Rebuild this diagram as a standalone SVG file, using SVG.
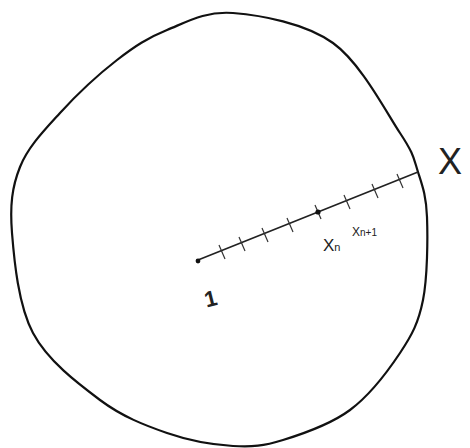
<svg xmlns="http://www.w3.org/2000/svg" width="470" height="448" viewBox="0 0 470 448">
<style>
.outline{fill:none;stroke:#111;stroke-width:2.2;stroke-linejoin:round}
.seg{fill:none;stroke:#222;stroke-width:1.6}
.tick{stroke:#333;stroke-width:1.2}
.lbl{font-family:"Liberation Sans",Arial,sans-serif;fill:#222}
</style>
<rect width="470" height="448" fill="#fff"/>
<g id="region">
<path class="outline" d="M233,13 C260.7,15.2 305.2,23 333,43 C360.8,63 385.8,111.5 400,133 C414.2,154.5 413.5,158 418,172 C422.5,186 426.2,195.7 427,217 C427.8,238.3 427.5,277.3 423,300 C418.5,322.7 412.2,334.7 400,353 C387.8,371.3 369.5,395.5 350,410 C330.5,424.5 302.5,434 283,440 C263.5,446 252.3,447.2 233,446 C213.7,444.8 189.2,440.7 167,433 C144.8,425.3 122.3,416.7 100,400 C77.7,383.3 47.7,360.8 33,333 C18.3,305.2 14.2,260.7 12,233 C9.8,205.3 12,187 20,167 C28,147 43.8,130.8 60,113 C76.2,95.2 99.2,73.8 117,60 C134.8,46.2 147.7,37.8 167,30 C186.3,22.2 205.3,10.8 233,13 Z"/>
</g>
<g id="connectors">
<line class="seg" x1="198" y1="260" x2="418" y2="172"/>
<g id="ticks">
<line class="tick" x1="219" y1="245" x2="225" y2="259"/>
<line class="tick" x1="239" y1="237" x2="245" y2="251"/>
<line class="tick" x1="262" y1="228" x2="268" y2="242"/>
<line class="tick" x1="287" y1="218" x2="293" y2="232"/>
<line class="tick" x1="344" y1="195" x2="350" y2="209"/>
<line class="tick" x1="372" y1="184" x2="378" y2="198"/>
<line class="tick" x1="397" y1="174" x2="403" y2="188"/>
</g>
<line class="tick" x1="315" y1="205" x2="321" y2="219" stroke-width="1.8"/>
<circle cx="318" cy="212" r="2.6" fill="#111"/>
<circle cx="198" cy="261" r="2.4" fill="#111"/>
</g>
<g id="labels">
<text class="lbl" x="204" y="306" font-size="22" font-weight="bold" transform="rotate(-14 211 297)">1</text>
<text class="lbl" x="323" y="251" font-size="17">X<tspan font-size="11">n</tspan></text>
<text class="lbl" x="352" y="236" font-size="12">X<tspan font-size="10">n+1</tspan></text>
<text class="lbl" x="438" y="174" font-size="36" font-weight="300">X</text>
</g>
</svg>
